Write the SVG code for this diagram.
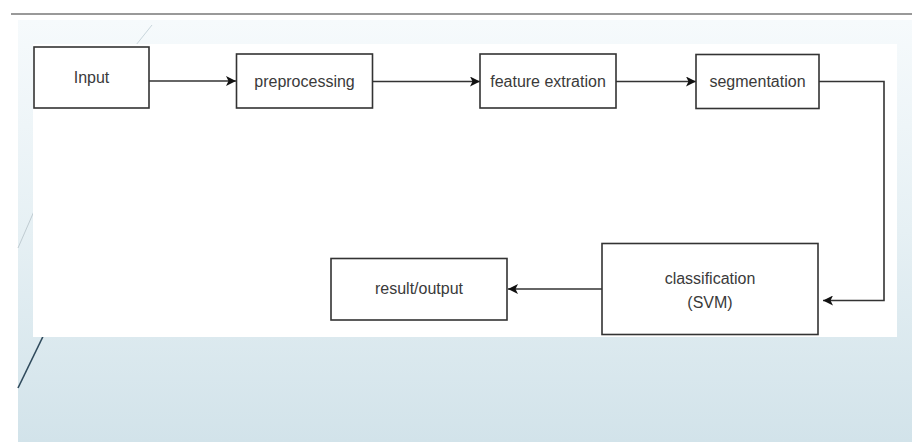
<svg xmlns="http://www.w3.org/2000/svg" width="912" height="442" viewBox="0 0 912 442">
<defs>
<linearGradient id="bg" x1="0" y1="0" x2="0" y2="1">
<stop offset="0" stop-color="#f6fafc"/>
<stop offset="0.5" stop-color="#e6f0f4"/>
<stop offset="1" stop-color="#d2e3ea"/>
</linearGradient>
<marker id="ah" viewBox="0 0 10 10" refX="10" refY="5" markerWidth="10" markerHeight="10" markerUnits="userSpaceOnUse" orient="auto">
<path d="M0,0 L10,5 L0,10 L2.5,5 Z" fill="#111"/>
</marker>
<style>
.box{fill:#fff;stroke:#333;stroke-width:1.6}
.lbl{font-family:"Liberation Sans",Arial,sans-serif;font-size:16px;fill:#3a3a3a;text-anchor:middle;dominant-baseline:central}
.con{fill:none;stroke:#333;stroke-width:1.6;marker-end:url(#ah)}
</style>
</defs>
<rect x="0" y="0" width="912" height="442" fill="#fff"/>
<rect x="18" y="20" width="894" height="422" fill="url(#bg)"/>
<line x1="11" y1="14" x2="912" y2="14" stroke="#777" stroke-width="1.5"/>
<line x1="152" y1="25" x2="120" y2="65" stroke="#c9d6dc" stroke-width="1"/>
<line x1="45" y1="186" x2="18" y2="248" stroke="#c0ccd2" stroke-width="1"/>
<line x1="50" y1="322" x2="18" y2="388" stroke="#2f4a5c" stroke-width="1.6"/>
<rect x="33" y="44" width="864" height="293" fill="#fff"/>
<g id="connectors">
<line class="con" x1="149" y1="81" x2="236" y2="81"/>
<line class="con" x1="373" y1="81.5" x2="480" y2="81.5"/>
<line class="con" x1="616" y1="81.5" x2="696" y2="81.5"/>
<polyline class="con" points="819,81.5 884,81.5 884,300.5 823,300.5"/>
<line class="con" x1="602" y1="289" x2="508" y2="289"/>
</g>
<g id="input"><rect class="box" x="34" y="47" width="115" height="61"/><text class="lbl" x="91.5" y="77">Input</text></g>
<g id="preprocessing"><rect class="box" x="236.5" y="54" width="136" height="54"/><text class="lbl" x="304.5" y="81.5">preprocessing</text></g>
<g id="feature"><rect class="box" x="480" y="54" width="136" height="54"/><text class="lbl" x="548" y="81.5">feature extration</text></g>
<g id="segmentation"><rect class="box" x="696" y="54.5" width="123" height="54"/><text class="lbl" x="757.5" y="81.5">segmentation</text></g>
<g id="classification"><rect class="box" x="602" y="243.5" width="216" height="91"/><text class="lbl" x="710" y="278">classification</text><text class="lbl" x="710" y="302">(SVM)</text></g>
<g id="result"><rect class="box" x="331" y="258.5" width="176" height="61.5"/><text class="lbl" x="419" y="288">result/output</text></g>
</svg>
